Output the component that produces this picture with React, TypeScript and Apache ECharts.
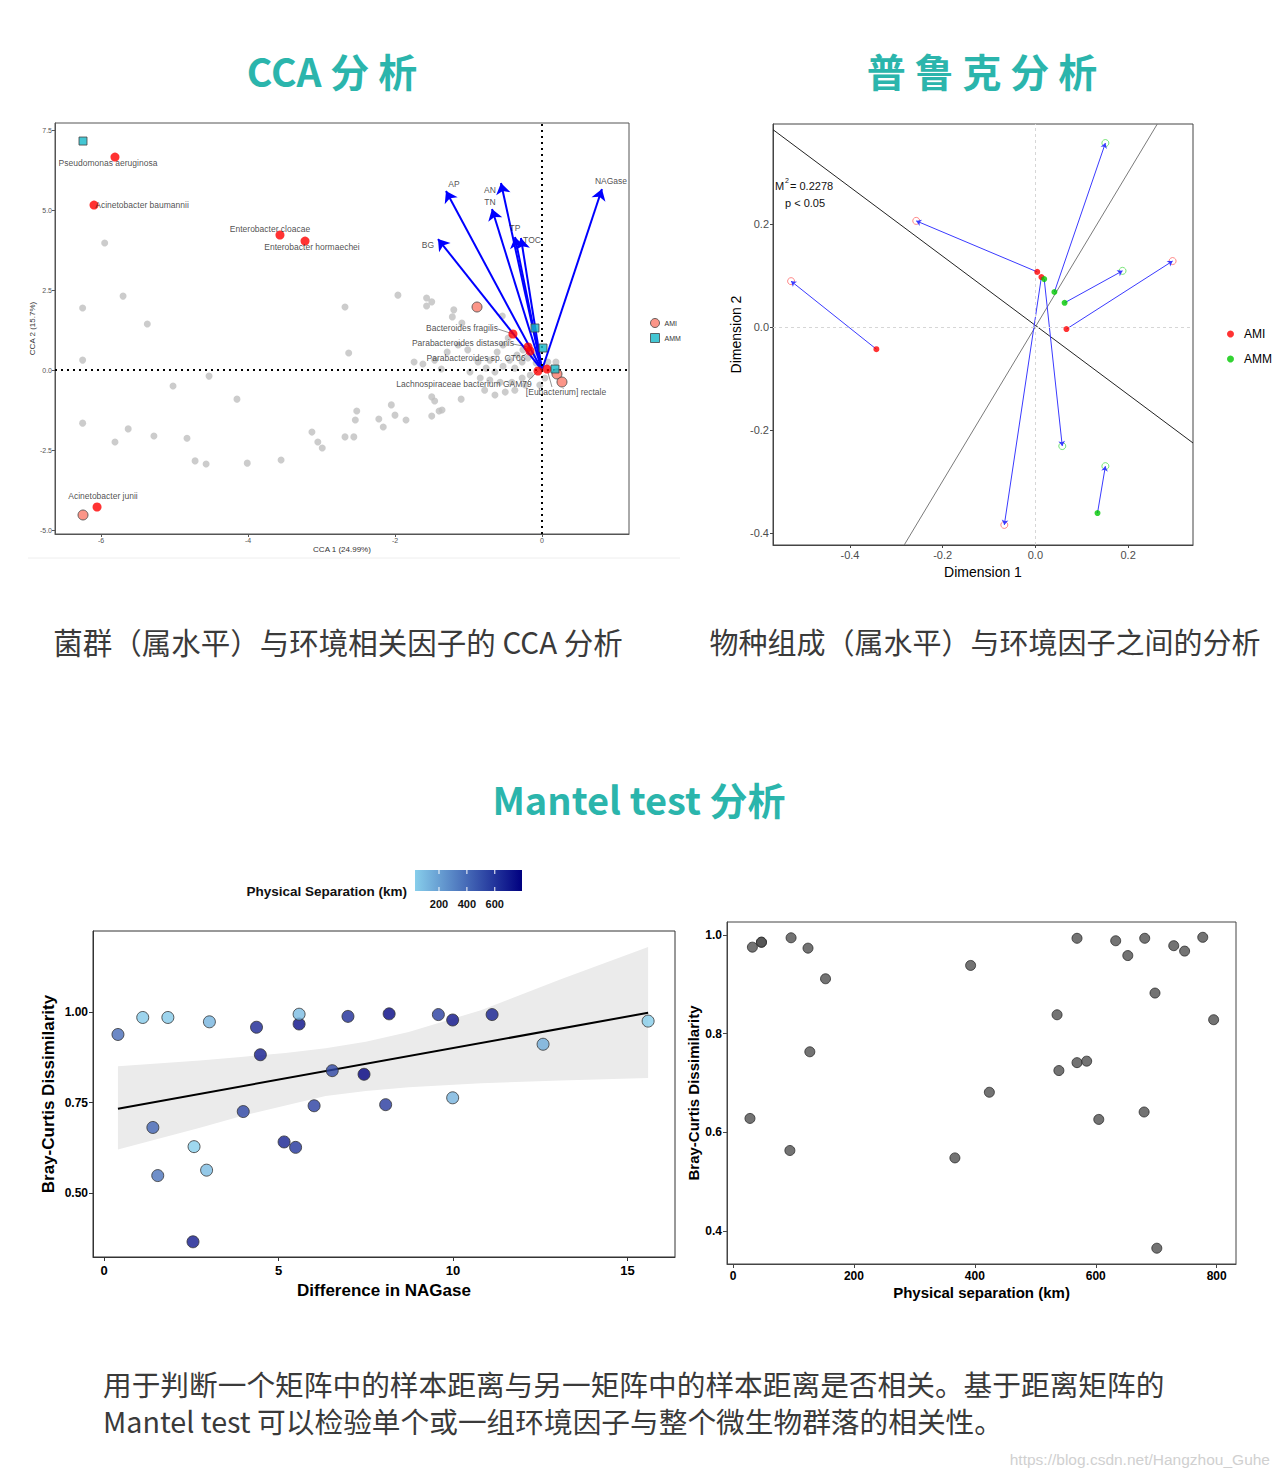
import React, { useEffect, useRef } from "react";
import * as echarts from "echarts";

const FONT = '"Liberation Sans", Arial, sans-serif';
const CJK = '"Noto Sans CJK SC", sans-serif';
const TEAL = "#2bb5ac";

// ---------------- CCA ----------------
const ccaXTicks = [-6, -4, -2, 0];
const ccaYTicks = [-5, -2.5, 0, 2.5, 5, 7.5];

const envNames = ["NAGase", "AP", "AN", "TN", "TP", "TOC", "BG"];
const envX = [0.816, -1.306, -0.558, -0.68, -0.367, -0.286, -1.415];
const envY = [5.656, 5.594, 5.844, 5.031, 4.156, 4.125, 4.094];
const envLabelX = [0.939, -1.197, -0.707, -0.707, -0.367, -0.136, -1.551];
const envLabelY = [5.906, 5.8125, 5.625, 5.25, 4.4375, 4.0625, 3.906];

const speciesNames = [
  "Pseudomonas aeruginosa",
  "Acinetobacter baumannii",
  "Enterobacter cloacae",
  "Enterobacter hormaechei",
  "Acinetobacter junii",
  "Bacteroides fragilis",
  "Parabacteroides distasonis",
  "Parabacteroides sp. CT06",
  "Lachnospiraceae bacterium GAM79",
  "[Eubacterium] rectale",
];
const speciesX = [-5.81, -6.095, -3.565, -3.224, -6.054, -0.395, -0.19, -0.163, -0.054, 0.068];
const speciesY = [6.656, 5.156, 4.219, 4.031, -4.281, 1.125, 0.719, 0.594, -0.031, 0.031];
const speciesLabelX = [-5.905, -5.442, -3.701, -3.129, -5.973, -1.088, -1.075, -0.898, -1.061, 0.327];
const speciesLabelY = [6.469, 5.156, 4.406, 3.844, -3.938, 1.3125, 0.844, 0.375, -0.4375, -0.6875];
// leader segments: [labelEndX, labelEndY, pointX, pointY]
const leaderSegs = [
  [-0.599, 1.281, -0.395, 1.125],
  [-0.395, 0.8125, -0.19, 0.719],
  [-0.27, 0.41, -0.163, 0.594],
  [-0.19, -0.34, -0.054, -0.031],
  [0.136, -0.53, 0.068, 0.031],
];

const amiX = [-0.884, -6.245, 0.204, 0.272];
const amiY = [1.969, -4.531, -0.125, -0.375];
const ammX = [-6.245, -0.095, 0.014, 0.177];
const ammY = [7.156, 1.3125, 0.6875, 0.031];

const ccaGray: number[][] = [
  [-5.95, 3.97], [-6.25, 1.94], [-5.7, 2.31], [-5.37, 1.44], [-6.25, 0.31], [-5.02, -0.5],
  [-4.53, -0.19], [-4.15, -0.91], [-6.25, -1.66], [-5.63, -1.84], [-5.81, -2.25], [-5.28, -2.06],
  [-4.83, -2.13], [-4.72, -2.84], [-4.57, -2.94], [-4.01, -2.91], [-3.55, -2.81], [-3.13, -1.94],
  [-3.05, -2.25], [-2.99, -2.44], [-2.68, -2.09], [-2.68, 1.97], [-2.63, 0.53], [-2.54, -1.56],
  [-2.52, -1.28], [-2.56, -2.09], [-2.22, -1.53], [-2.16, -1.78], [-2.05, -1.09], [-2.0, -1.41],
  [-1.85, -1.56], [-1.5, -0.84], [-1.46, -0.97], [-1.36, -1.25], [-1.4, -1.28], [-1.5, -1.44],
  [-1.1, -0.91], [-1.96, 2.34], [-1.57, 2.25], [-1.5, 2.13], [-1.57, 2.0], [-1.2, 1.88],
  [-1.22, 1.66], [-1.09, 1.47], [-0.54, 1.69],
  [-0.71, 0.31], [-0.61, 0.56], [-0.53, 0.78], [-0.46, 1.0], [-0.76, 0.06], [-0.64, -0.06],
  [-0.53, 0.12], [-0.44, 0.31], [-0.34, 0.47], [-0.26, 0.63], [-0.37, 0.06], [-0.27, 0.25],
  [-0.19, 0.38], [-0.12, 0.47], [-0.08, 0.22], [-0.16, -0.16], [-0.27, -0.25], [-0.41, -0.38],
  [-0.57, -0.38], [-0.71, -0.31], [-0.84, -0.25], [-0.98, -0.06], [-0.5, -0.69], [-0.37, -0.63],
  [-0.64, -0.78], [-0.78, -0.63], [0.08, 0.25], [0.19, 0.25], [0.04, -0.25], [-0.03, -0.47],
  [-0.23, -0.47], [-0.87, 0.25], [-1.01, 0.63], [-1.14, 0.78], [-1.29, 0.56], [-1.46, 0.31],
  [-1.74, 0.25], [-1.62, 0.19], [-1.37, 0.03],
];

// ---------------- Procrustes ----------------
const procTicks = [-0.4, -0.2, 0, 0.2];
const procGroup = ["AMI", "AMI", "AMI", "AMI", "AMM", "AMM", "AMM", "AMM"];
const procFitX = [-0.343, 0.004, 0.013, 0.067, 0.041, 0.063, 0.019, 0.134];
const procFitY = [-0.043, 0.107, 0.097, -0.004, 0.068, 0.047, 0.093, -0.361];
const procTargetX = [-0.527, -0.257, -0.067, 0.296, 0.151, 0.188, 0.058, 0.151];
const procTargetY = [0.089, 0.206, -0.384, 0.128, 0.357, 0.109, -0.231, -0.27];
const rotLine1X = [-0.566, 0.34];
const rotLine1Y = [0.383, -0.225];
const rotLine2X = [-0.283, 0.263];
const rotLine2Y = [-0.423, 0.394];

// ---------------- Mantel ----------------
const nagaseDiff = [2.55, 1.54, 2.94, 5.49, 2.58, 5.16, 1.4, 3.99, 6.02, 8.07, 9.99, 7.45, 6.54, 4.48,
  12.58, 0.4, 4.37, 5.59, 3.02, 15.59, 9.99, 1.11, 1.83, 6.99, 9.58, 11.12, 5.59, 8.17];
const brayCurtis = [0.365, 0.548, 0.563, 0.626, 0.628, 0.641, 0.681, 0.725, 0.741, 0.744, 0.763, 0.828,
  0.838, 0.882, 0.911, 0.938, 0.958, 0.967, 0.973, 0.975, 0.978, 0.985, 0.985, 0.988, 0.993, 0.993, 0.994, 0.995];
const physSep = [701, 367, 94, 605, 28, 680, 424, 539, 569, 585, 127, 795, 536, 698, 153, 393, 653, 747,
  124, 32, 729, 47, 47, 633, 569, 681, 96, 777];
const regX = [0.4, 15.59];
const regY = [0.733, 0.998];
const bandX = [0.4, 2.75, 3.92, 5.2, 6.35, 7.5, 8.73, 10.8, 13.07, 15.59];
const bandLo = [0.62, 0.68, 0.712, 0.742, 0.768, 0.782, 0.792, 0.803, 0.811, 0.818];
const bandHi = [0.85, 0.866, 0.876, 0.887, 0.9, 0.918, 0.945, 1.005, 1.09, 1.18];
const sepMin = 28;
const sepMax = 795;
const sepTicks = [200, 400, 600];
const mantelLXTicks = [0, 5, 10, 15];
const mantelLYTicks = [0.5, 0.75, 1.0];
const mantelRXTicks = [0, 200, 400, 600, 800];
const mantelRYTicks = [0.4, 0.6, 0.8, 1.0];

function makeAxis(o: any) {
  return {
    type: "value",
    gridIndex: o.grid,
    min: o.min,
    max: o.max,
    axisLine: { show: true, onZero: false, lineStyle: { color: o.lineColor, width: 1 } },
    axisTick: { show: true, customValues: o.ticks, length: o.tickLen, lineStyle: { color: o.lineColor } },
    axisLabel: {
      customValues: o.ticks,
      formatter: (v: number) => v.toFixed(o.dec),
      fontSize: o.fs,
      fontWeight: o.fw,
      color: o.lc,
      fontFamily: FONT,
      margin: o.margin,
    },
    splitLine: { show: false },
    name: o.name,
    nameLocation: "middle",
    nameGap: o.nameGap,
    nameTextStyle: { fontSize: o.nfs, fontWeight: o.nfw, color: o.nc, fontFamily: FONT },
  };
}

function textEl(x: number, y: number, text: string, st: any) {
  return {
    type: "text",
    x,
    y,
    silent: true,
    style: {
      text,
      fill: st.fill || "#333",
      fontSize: st.fontSize,
      fontWeight: st.fontWeight || "normal",
      fontFamily: st.fontFamily || FONT,
      align: st.align || "left",
      verticalAlign: "middle",
    },
  };
}

function buildOption() {
  const series: any[] = [];
  const zeroCCA = {
    silent: true,
    symbol: ["none", "none"],
    label: { show: false },
    lineStyle: { color: "#000", type: [2, 4], width: 2 },
    data: [{ xAxis: 0 }, { yAxis: 0 }],
  };
  series.push({
    type: "scatter", name: "gray", xAxisIndex: 0, yAxisIndex: 0, symbolSize: 7,
    itemStyle: { color: "#bfbfbf" }, data: ccaGray, markLine: zeroCCA, z: 2,
  });
  series.push({
    type: "lines", coordinateSystem: "cartesian2d", xAxisIndex: 0, yAxisIndex: 0,
    symbol: ["none", "arrow"], symbolSize: 11, z: 4,
    lineStyle: { color: "#0000ff", width: 2, opacity: 1 },
    data: envX.map((x, i) => ({ coords: [[0, 0], [x, envY[i]]] })),
  });
  series.push({
    type: "scatter", xAxisIndex: 0, yAxisIndex: 0, symbolSize: 0.1, silent: true, z: 6,
    itemStyle: { color: "rgba(0,0,0,0)" },
    label: { show: true, position: "inside", formatter: "{b}", fontSize: 8.5, color: "#222", fontFamily: FONT },
    data: envNames.map((n, i) => ({ name: n, value: [envLabelX[i], envLabelY[i]] })),
  });
  series.push({
    type: "lines", coordinateSystem: "cartesian2d", xAxisIndex: 0, yAxisIndex: 0, z: 3, silent: true,
    lineStyle: { color: "#777", width: 0.8, opacity: 1 },
    data: leaderSegs.map((s) => ({ coords: [[s[0], s[1]], [s[2], s[3]]] })),
  });
  series.push({
    type: "scatter", name: "species", xAxisIndex: 0, yAxisIndex: 0, symbolSize: 9, z: 5,
    itemStyle: { color: "#ff0000" },
    data: speciesX.map((x, i) => [x, speciesY[i]]),
  });
  series.push({
    type: "scatter", name: "AMI", xAxisIndex: 0, yAxisIndex: 0, symbolSize: 10, z: 5,
    itemStyle: { color: "#fa7a6a", borderColor: "#444", borderWidth: 1 },
    data: amiX.map((x, i) => [x, amiY[i]]),
  });
  series.push({
    type: "scatter", name: "AMM", xAxisIndex: 0, yAxisIndex: 0, symbol: "rect", symbolSize: 8, z: 5,
    itemStyle: { color: "#14b8c8", borderColor: "#444", borderWidth: 1 },
    data: ammX.map((x, i) => [x, ammY[i]]),
  });
  series.push({
    type: "scatter", xAxisIndex: 0, yAxisIndex: 0, symbolSize: 0.1, silent: true, z: 6,
    itemStyle: { color: "rgba(0,0,0,0)" },
    label: { show: true, position: "inside", formatter: "{b}", fontSize: 8.5, color: "#222", fontFamily: FONT },
    data: speciesNames.map((n, i) => ({ name: n, value: [speciesLabelX[i], speciesLabelY[i]] })),
  });

  // Procrustes
  series.push({
    type: "line", xAxisIndex: 1, yAxisIndex: 1, showSymbol: false, silent: true, z: 2,
    lineStyle: { color: "#222", width: 1 },
    data: rotLine1X.map((x, i) => [x, rotLine1Y[i]]),
    markLine: {
      silent: true, symbol: ["none", "none"], label: { show: false },
      lineStyle: { color: "#d6d6d6", type: [3, 3], width: 1 },
      data: [{ xAxis: 0 }, { yAxis: 0 }],
    },
  });
  series.push({
    type: "line", xAxisIndex: 1, yAxisIndex: 1, showSymbol: false, silent: true, z: 2,
    lineStyle: { color: "#7a7a7a", width: 1 },
    data: rotLine2X.map((x, i) => [x, rotLine2Y[i]]),
  });
  ["AMI", "AMM"].forEach((g) => {
    const col = g === "AMI" ? "#ff0000" : "#00c800";
    const open = g === "AMI" ? "#ff6a6a" : "#55dd55";
    const idx = procGroup.map((gg, i) => (gg === g ? i : -1)).filter((i) => i >= 0);
    series.push({
      type: "scatter", name: g, xAxisIndex: 1, yAxisIndex: 1, symbolSize: 7, z: 3,
      itemStyle: { color: "rgba(0,0,0,0)", borderColor: open, borderWidth: 1 },
      data: idx.map((i) => [procTargetX[i], procTargetY[i]]),
    });
    series.push({
      type: "scatter", name: g, xAxisIndex: 1, yAxisIndex: 1, symbolSize: 6, z: 5,
      itemStyle: { color: col },
      data: idx.map((i) => [procFitX[i], procFitY[i]]),
    });
  });
  series.push({
    type: "lines", coordinateSystem: "cartesian2d", xAxisIndex: 1, yAxisIndex: 1, z: 4,
    symbol: ["none", "arrow"], symbolSize: 5,
    lineStyle: { color: "#3a3aff", width: 1, opacity: 1 },
    data: procFitX.map((x, i) => ({ coords: [[x, procFitY[i]], [procTargetX[i], procTargetY[i]]] })),
  });

  // Mantel left
  series.push({
    type: "custom", xAxisIndex: 2, yAxisIndex: 2, silent: true, z: 1, clip: true,
    data: [[bandX[0], bandLo[0]]],
    renderItem: (params: any, api: any) => {
      if (params.dataIndex !== 0) return null;
      const pts: number[][] = [];
      for (let i = 0; i < bandX.length; i++) pts.push(api.coord([bandX[i], bandHi[i]]));
      for (let i = bandX.length - 1; i >= 0; i--) pts.push(api.coord([bandX[i], bandLo[i]]));
      return { type: "polygon", shape: { points: pts }, style: { fill: "#ebebeb" } };
    },
  });
  series.push({
    type: "line", xAxisIndex: 2, yAxisIndex: 2, showSymbol: false, silent: true, z: 2,
    lineStyle: { color: "#000", width: 2 },
    data: regX.map((x, i) => [x, regY[i]]),
  });
  const mantelIdx = series.length;
  series.push({
    type: "scatter", name: "mantel", xAxisIndex: 2, yAxisIndex: 2, symbolSize: 12, z: 3,
    itemStyle: { borderColor: "#333", borderWidth: 1, opacity: 0.8 },
    data: nagaseDiff.map((x, i) => [x, brayCurtis[i], physSep[i]]),
  });
  // Mantel right
  series.push({
    type: "scatter", name: "sep", xAxisIndex: 3, yAxisIndex: 3, symbolSize: 10, z: 3,
    itemStyle: { color: "#505050", borderColor: "#2a2a2a", borderWidth: 1, opacity: 0.8 },
    data: physSep.map((x, i) => [x, brayCurtis[i]]),
  });

  const barL = 415, barT = 870, barW = 107, barH = 21;
  const gradient = new echarts.graphic.LinearGradient(0, 0, 1, 0, [
    { offset: 0, color: "#87CEEB" },
    { offset: 1, color: "#000080" },
  ]);
  const cbTicks: any[] = [];
  sepTicks.forEach((v) => {
    const x = barL + ((v - sepMin) / (sepMax - sepMin)) * barW;
    cbTicks.push({ type: "line", silent: true, shape: { x1: x, y1: barT, x2: x, y2: barT + 4 }, style: { stroke: "#fff", lineWidth: 1 } });
    cbTicks.push({ type: "line", silent: true, shape: { x1: x, y1: barT + barH - 4, x2: x, y2: barT + barH }, style: { stroke: "#fff", lineWidth: 1 } });
    cbTicks.push(textEl(x, barT + barH + 13, String(v), { fontSize: 11, fontWeight: "bold", fill: "#111", align: "center" }));
  });

  const graphic: any[] = [
    textEl(332, 70, "CCA 分 析", { fontSize: 39, fontWeight: "bold", fill: TEAL, fontFamily: CJK, align: "center" }),
    textEl(982, 70, "普 鲁 克 分 析", { fontSize: 39, fontWeight: "bold", fill: TEAL, fontFamily: CJK, align: "center" }),
    textEl(639, 798, "Mantel test 分析", { fontSize: 38, fontWeight: "bold", fill: TEAL, fontFamily: CJK, align: "center" }),
    textEl(338, 641, "菌群（属水平）与环境相关因子的 CCA 分析", { fontSize: 29.5, fill: "#3a3a3a", fontFamily: CJK, align: "center" }),
    textEl(985, 641, "物种组成（属水平）与环境因子之间的分析", { fontSize: 29, fill: "#3a3a3a", fontFamily: CJK, align: "center" }),
    textEl(103, 1383, "用于判断一个矩阵中的样本距离与另一矩阵中的样本距离是否相关。基于距离矩阵的", { fontSize: 28.7, fill: "#3a3a3a", fontFamily: CJK }),
    textEl(103, 1420, "Mantel test 可以检验单个或一组环境因子与整个微生物群落的相关性。", { fontSize: 28.7, fill: "#3a3a3a", fontFamily: CJK }),
    textEl(1270, 1459, "https://blog.csdn.net/Hangzhou_Guhe", { fontSize: 15.5, fill: "#d0d0d0", align: "right" }),
    { type: "line", silent: true, shape: { x1: 28, y1: 558, x2: 680, y2: 558 }, style: { stroke: "#eeeeee", lineWidth: 1 } },
    textEl(775, 186, "M", { fontSize: 11, fill: "#111" }),
    textEl(785, 180, "2", { fontSize: 7, fill: "#111" }),
    textEl(790, 186, "= 0.2278", { fontSize: 11, fill: "#111" }),
    textEl(785, 203, "p < 0.05", { fontSize: 11, fill: "#111" }),
    textEl(407, 891, "Physical Separation (km)", { fontSize: 13.5, fontWeight: "bold", fill: "#111", align: "right" }),
    { type: "rect", silent: true, shape: { x: barL, y: barT, width: barW, height: barH }, style: { fill: gradient } },
    ...cbTicks,
  ];

  return {
    animation: false,
    backgroundColor: "#fff",
    grid: [
      { left: 55, top: 123, width: 574, height: 411, show: true, borderColor: "#555", borderWidth: 1 },
      { left: 773, top: 124, width: 420, height: 421, show: true, borderColor: "#444", borderWidth: 1 },
      { left: 93, top: 931, width: 582, height: 326, show: true, borderColor: "#333", borderWidth: 1 },
      { left: 727, top: 922, width: 509, height: 342, show: true, borderColor: "#444", borderWidth: 1 },
    ],
    xAxis: [
      makeAxis({ grid: 0, min: -6.626, max: 1.184, ticks: ccaXTicks, dec: 0, lineColor: "#555", tickLen: 3, fs: 7, fw: "normal", lc: "#555", margin: 3, name: "CCA 1 (24.99%)", nameGap: 11, nfs: 8, nfw: "normal", nc: "#333" }),
      makeAxis({ grid: 1, min: -0.566, max: 0.34, ticks: procTicks, dec: 1, lineColor: "#444", tickLen: 3, fs: 11, fw: "normal", lc: "#4d4d4d", margin: 4, name: "Dimension 1", nameGap: 20, nfs: 14, nfw: "normal", nc: "#000" }),
      makeAxis({ grid: 2, min: -0.315, max: 16.36, ticks: mantelLXTicks, dec: 0, lineColor: "#333", tickLen: 4, fs: 13, fw: "bold", lc: "#000", margin: 7, name: "Difference in NAGase", nameGap: 25, nfs: 17, nfw: "bold", nc: "#000" }),
      makeAxis({ grid: 3, min: -10, max: 832, ticks: mantelRXTicks, dec: 0, lineColor: "#444", tickLen: 4, fs: 12, fw: "bold", lc: "#000", margin: 6, name: "Physical separation (km)", nameGap: 21, nfs: 15, nfw: "bold", nc: "#000" }),
    ],
    yAxis: [
      makeAxis({ grid: 0, min: -5.125, max: 7.72, ticks: ccaYTicks, dec: 1, lineColor: "#555", tickLen: 3, fs: 7, fw: "normal", lc: "#555", margin: 3, name: "CCA 2 (15.7%)", nameGap: 19, nfs: 8, nfw: "normal", nc: "#333" }),
      makeAxis({ grid: 1, min: -0.423, max: 0.394, ticks: procTicks, dec: 1, lineColor: "#444", tickLen: 3, fs: 11, fw: "normal", lc: "#4d4d4d", margin: 4, name: "Dimension 2", nameGap: 30, nfs: 14, nfw: "normal", nc: "#000" }),
      makeAxis({ grid: 2, min: 0.323, max: 1.224, ticks: mantelLYTicks, dec: 2, lineColor: "#333", tickLen: 4, fs: 12, fw: "bold", lc: "#000", margin: 5, name: "Bray-Curtis Dissimilarity", nameGap: 36, nfs: 17, nfw: "bold", nc: "#000" }),
      makeAxis({ grid: 3, min: 0.333, max: 1.026, ticks: mantelRYTicks, dec: 1, lineColor: "#444", tickLen: 4, fs: 12, fw: "bold", lc: "#000", margin: 5, name: "Bray-Curtis Dissimilarity", nameGap: 24, nfs: 15, nfw: "bold", nc: "#000" }),
    ],
    legend: [
      {
        left: 645, top: 313, orient: "vertical", itemWidth: 9, itemHeight: 9, itemGap: 5, selectedMode: false,
        textStyle: { fontSize: 7, color: "#333", fontFamily: FONT },
        data: [
          { name: "AMI", icon: "circle", itemStyle: { color: "#fa7a6a", borderColor: "#444", borderWidth: 1 } },
          { name: "AMM", icon: "rect", itemStyle: { color: "#14b8c8", borderColor: "#444", borderWidth: 1 } },
        ],
      },
      {
        left: 1222, top: 323, orient: "vertical", itemWidth: 7, itemHeight: 7, itemGap: 13, selectedMode: false,
        textStyle: { fontSize: 12, color: "#000", fontFamily: FONT, padding: [0, 0, 0, 5] },
        data: [
          { name: "AMI", icon: "circle", itemStyle: { color: "#ff0000", borderWidth: 0 } },
          { name: "AMM", icon: "circle", itemStyle: { color: "#00c800", borderWidth: 0 } },
        ],
      },
    ],
    visualMap: [
      {
        type: "continuous", show: false, seriesIndex: mantelIdx, dimension: 2, min: sepMin, max: sepMax,
        inRange: { color: ["#87CEEB", "#000080"] },
      },
    ],
    graphic,
    series,
  };
}

export default function App() {
  const ref = useRef<HTMLDivElement>(null);
  useEffect(() => {
    document.body.style.margin = "0";
    const chart = echarts.init(ref.current as HTMLDivElement, undefined, { renderer: "svg", width: 1280, height: 1476 });
    chart.setOption(buildOption() as any);
    return () => chart.dispose();
  }, []);
  return <div ref={ref} style={{ width: 1280, height: 1476 }} />;
}
